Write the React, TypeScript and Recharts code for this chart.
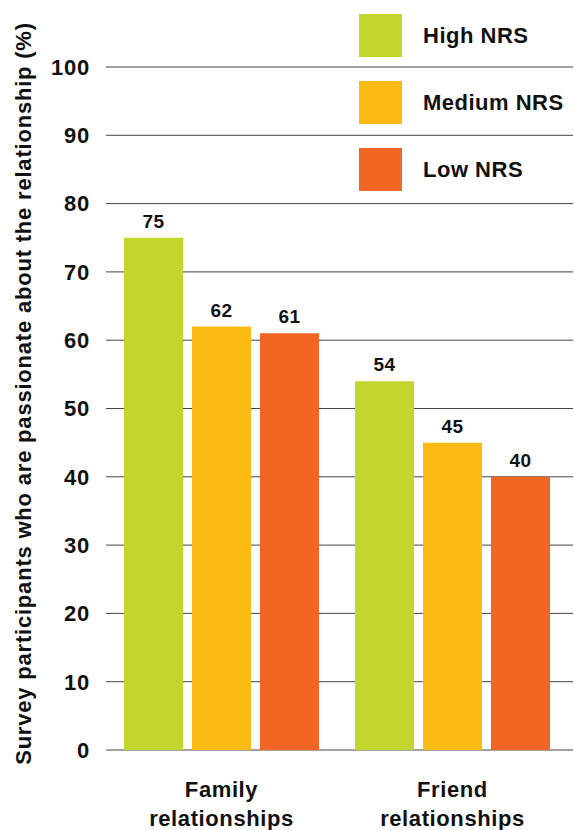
import { BarChart, Bar, XAxis, YAxis, CartesianGrid, LabelList } from "recharts"

const categories = ["Family relationships", "Friend relationships"]
const highNrs = [75, 54]
const mediumNrs = [62, 45]
const lowNrs = [61, 40]
const yTicks = [0, 10, 20, 30, 40, 50, 60, 70, 80, 90, 100]

const series = [
  { key: "high", name: "High NRS", color: "#C2D62E", values: highNrs },
  { key: "medium", name: "Medium NRS", color: "#FDBA12", values: mediumNrs },
  { key: "low", name: "Low NRS", color: "#F26522", values: lowNrs },
]

const data = categories.map((c, i) => ({
  category: c,
  high: highNrs[i],
  medium: mediumNrs[i],
  low: lowNrs[i],
}))

const FONT = "'Liberation Sans', Arial, sans-serif"

const CategoryTick = (props: any) => {
  const { x, y, payload } = props
  const words = String(payload.value).split(" ")
  return (
    <text
      x={x}
      y={y}
      textAnchor="middle"
      fontFamily={FONT}
      fontWeight="bold"
      fontSize={22}
      letterSpacing={0.6}
      fill="#111"
    >
      {words.map((w, i) => (
        <tspan key={i} x={x} dy={i === 0 ? 39 : 29}>{w}</tspan>
      ))}
    </text>
  )
}

// legend drawn as a plain overlay so it doesn't eat into the plot area
const LegendBox = () => (
  <div style={{ position: "absolute", left: 359, top: 14, fontFamily: FONT }}>
    {series.map((s) => (
      <div key={s.key} style={{ display: "flex", alignItems: "center", height: 43, marginBottom: 24 }}>
        <div style={{ width: 43, height: 43, background: s.color }} />
        <span style={{ marginLeft: 21, fontWeight: "bold", fontSize: 22, letterSpacing: 0.5, color: "#111" }}>
          {s.name}
        </span>
      </div>
    ))}
  </div>
)

export default function App() {
  return (
    <div style={{ position: "absolute", left: 0, top: 0, width: 574, height: 830, background: "#fff" }}>
      <BarChart
        width={574}
        height={830}
        data={data}
        margin={{ top: 67, right: 1, bottom: 0, left: 0 }}
        barSize={59}
        barGap={9}
      >
        <CartesianGrid horizontal vertical={false} stroke="#444" strokeWidth={1} />
        <XAxis
          dataKey="category"
          axisLine={false}
          tickLine={false}
          tick={<CategoryTick />}
          padding={{ left: 0, right: 5 }}
          interval={0}
          height={80}
        />
        <YAxis
          domain={[0, 100]}
          ticks={yTicks}
          width={106}
          axisLine={false}
          tickLine={false}
          tickMargin={10}
          tick={{ fontFamily: FONT, fontWeight: "bold", fontSize: 22, letterSpacing: 0.8, fill: "#111" }}
          label={{
            value: "Survey participants who are passionate about the relationship (%)",
            angle: -90,
            position: "insideLeft",
            dx: 18,
            dy: -15,
            style: {
              textAnchor: "middle",
              fontFamily: FONT,
              fontWeight: "bold",
              fontSize: 22,
              letterSpacing: 0.8,
              fill: "#111",
            },
          }}
        />
        {series.map((s) => (
          <Bar key={s.key} dataKey={s.key} name={s.name} fill={s.color} isAnimationActive={false}>
            <LabelList
              dataKey={s.key}
              position="top"
              offset={10}
              style={{ fontFamily: FONT, fontWeight: "bold", fontSize: 19, letterSpacing: 0.5, fill: "#111" }}
            />
          </Bar>
        ))}
      </BarChart>
      <LegendBox />
    </div>
  )
}
